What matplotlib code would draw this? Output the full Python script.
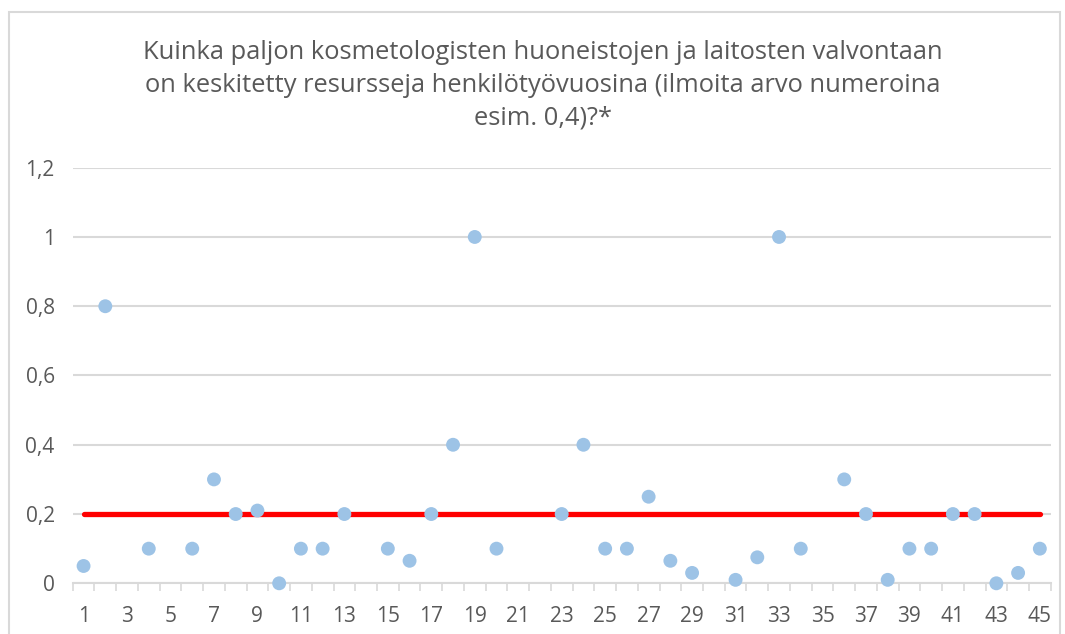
import numpy as np
import matplotlib.pyplot as plt
from matplotlib.patches import Rectangle

plt.rcParams['font.family'] = ['Open Sans', 'DejaVu Sans']

# Responses per respondent (None = no answer)
respondents = list(range(1, 46))
values = [0.05, 0.8, None, 0.1, None, 0.1, 0.3, 0.2, 0.21, 0.0,
          0.1, 0.1, 0.2, None, 0.1, 0.065, 0.2, 0.4, 1.0, 0.1,
          None, None, 0.2, 0.4, 0.1, 0.1, 0.25, 0.065, 0.03, None,
          0.01, 0.075, 1.0, 0.1, None, 0.3, 0.2, 0.01, 0.1, 0.1,
          0.2, 0.2, 0.0, 0.03, 0.1]
reference_level = 0.2
y_ticks = [0, 0.2, 0.4, 0.6, 0.8, 1.0, 1.2]
y_labels = ['0', '0,2', '0,4', '0,6', '0,8', '1', '1,2']
title = ("Kuinka paljon kosmetologisten huoneistojen ja laitosten valvontaan\n"
         "on keskitetty resursseja henkilötyövuosina (ilmoita arvo numeroina\n"
         "esim. 0,4)?*")

W, H = 1065, 634
fig = plt.figure(figsize=(W / 100, H / 100), dpi=100)

# outer chart frame
fig.patches.append(Rectangle((9 / W, -0.05), (1060 - 9) / W, 1.05 - 12 / H,
                             transform=fig.transFigure, fill=False,
                             ec='#D9D9D9', lw=1.5))

ax = fig.add_axes([72.7 / W, 1 - 583.3 / H, (1050.7 - 72.7) / W, (583.3 - 167.7) / H])

grey = '#D9D9D9'
text_grey = '#595959'

xs = [r for r, v in zip(respondents, values) if v is not None]
ys = [v for v in values if v is not None]

ax.plot([respondents[0], respondents[-1]], [reference_level, reference_level],
        color='#FF0000', lw=3.8, solid_capstyle='round', zorder=2)
ax.scatter(xs, ys, s=100, color='#9DC3E6', edgecolors='none', zorder=3, clip_on=False)

ax.set_xlim(0.5, 45.5)
ax.set_ylim(0, 1.2)
ax.set_yticks(y_ticks)
ax.set_yticklabels(y_labels)
ax.grid(axis='y', color=grey, lw=1.5)
ax.set_axisbelow(True)

# category axis: ticks between categories, labels on every second one
ax.set_xticks(np.arange(0.5, 46, 1), minor=True)
ax.set_xticks(respondents[::2])
ax.tick_params(axis='x', which='minor', length=6, width=1.2, color=grey, direction='out')
ax.tick_params(axis='x', which='major', length=0, pad=16, labelsize=15, labelcolor=text_grey)
ax.tick_params(axis='y', length=0, pad=13, labelsize=15, labelcolor=text_grey)

for side in ['top', 'right', 'left']:
    ax.spines[side].set_visible(False)
ax.spines['bottom'].set_color(grey)
ax.spines['bottom'].set_linewidth(1.5)

fig.text(543 / W, 1 - 85 / H, title, ha='center', va='center', fontsize=18.4,
         color=text_grey, linespacing=1.42)

fig.savefig('out.png', dpi=100)
